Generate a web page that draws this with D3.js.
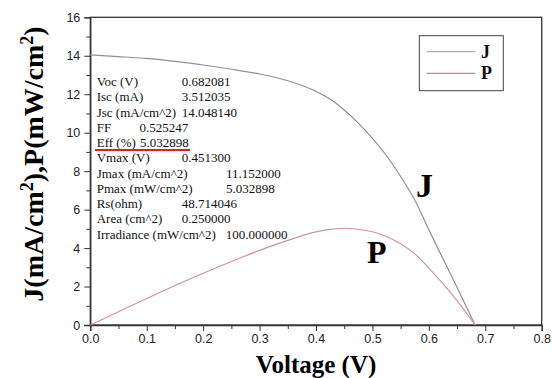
<!DOCTYPE html>
<html>
<head>
<meta charset="utf-8">
<script src="https://cdn.jsdelivr.net/npm/d3@7"></script>
<style>
  body { margin: 0; background: #fff; }
  .tick text { font-family: "Liberation Sans", Arial, sans-serif; font-size: 12.5px; fill: #222; }
  .axis path, .axis line { stroke: #333; }
  .serif { font-family: "Liberation Serif", serif; }
</style>
</head>
<body>
<div class="chart"></div>
<script>
// Data
const voltage = [0, 0.05, 0.1, 0.15, 0.2, 0.25, 0.3, 0.35, 0.4, 0.425, 0.45, 0.475, 0.5, 0.525, 0.55, 0.575, 0.6, 0.625, 0.65, 0.682];
const currentJ = [14.05, 13.96, 13.86, 13.71, 13.52, 13.3, 13.05, 12.7, 12.15, 11.75, 11.18, 10.5, 9.7, 8.8, 7.72, 6.5, 4.95, 3.45, 1.95, 0];
const powerP = [0, 0.69, 1.38, 2.05, 2.69, 3.3, 3.88, 4.4, 4.84, 4.97, 5.03, 4.98, 4.85, 4.6, 4.22, 3.7, 2.96, 2.15, 1.27, 0];

const xTicks = [0, 0.1, 0.2, 0.3, 0.4, 0.5, 0.6, 0.7, 0.8];
const yTicks = [0, 2, 4, 6, 8, 10, 12, 14, 16];

const paramNames = ["Voc (V)", "Isc (mA)", "Jsc (mA/cm^2)", "FF", "Eff (%)", "Vmax (V)",
  "Jmax (mA/cm^2)", "Pmax (mW/cm^2)", "Rs(ohm)", "Area (cm^2)", "Irradiance (mW/cm^2)"];
const paramValues = ["0.682081", "3.512035", "14.048140", "0.525247", "5.032898", "0.451300",
  "11.152000", "5.032898", "48.714046", "0.250000", "100.000000"];
const paramValueX = [181.7, 181.7, 181.7, 139.5, 140, 181.7, 226, 226, 181.7, 181.7, 225.7];

const svgWidth = 552;
const svgHeight = 378;
const margin = { top: 17.3, right: 10.3, bottom: 53, left: 90.3 };
const width = svgWidth - margin.left - margin.right;
const height = svgHeight - margin.top - margin.bottom;

const svg = d3.select(".chart")
  .append("svg")
  .attr("width", svgWidth)
  .attr("height", svgHeight);

const chartGroup = svg.append("g")
  .attr("transform", `translate(${margin.left}, ${margin.top})`);

const x = d3.scaleLinear().domain([0, 0.8]).range([0, width]);
const y = d3.scaleLinear().domain([0, 16]).range([height, 0]);

// frame
chartGroup.append("rect")
  .attr("width", width)
  .attr("height", height)
  .attr("fill", "none")
  .attr("stroke", "#333")
  .attr("stroke-width", 1.3);

// minor ticks
chartGroup.append("g")
  .attr("class", "axis")
  .attr("transform", `translate(0, ${height})`)
  .call(d3.axisBottom(x).tickValues(d3.range(0.05, 0.8, 0.1)).tickSize(4).tickFormat(""))
  .call(g => g.select(".domain").remove());
chartGroup.append("g")
  .attr("class", "axis")
  .call(d3.axisLeft(y).tickValues(d3.range(1, 16, 2)).tickSize(4).tickFormat(""))
  .call(g => g.select(".domain").remove());

// major axes
chartGroup.append("g")
  .attr("class", "axis")
  .attr("transform", `translate(0, ${height})`)
  .call(d3.axisBottom(x).tickValues(xTicks).tickSize(6).tickPadding(3).tickFormat(d3.format(".1f")))
  .call(g => g.select(".domain").attr("stroke-width", 1.3));
chartGroup.append("g")
  .attr("class", "axis")
  .call(d3.axisLeft(y).tickValues(yTicks).tickSize(6).tickPadding(4))
  .call(g => g.select(".domain").attr("stroke-width", 1.3));

// curves
const line = d3.line().x((d, i) => x(voltage[i])).y(d => y(d)).curve(d3.curveMonotoneX);
chartGroup.append("path")
  .datum(currentJ)
  .attr("d", line)
  .attr("fill", "none")
  .attr("stroke", "#958c99")
  .attr("stroke-width", 1.2);
chartGroup.append("path")
  .datum(powerP)
  .attr("d", line)
  .attr("fill", "none")
  .attr("stroke", "#cc95a0")
  .attr("stroke-width", 1.2);

// parameter table
paramNames.forEach((name, i) => {
  const yy = 86 + i * 15.25;
  svg.append("text").attr("class", "serif")
    .attr("x", 96.7).attr("y", yy)
    .style("font-size", "13px").attr("fill", "#111")
    .text(name);
  svg.append("text").attr("class", "serif")
    .attr("x", paramValueX[i]).attr("y", yy)
    .style("font-size", "13px").attr("fill", "#111")
    .text(paramValues[i]);
});
svg.append("line")
  .attr("x1", 95).attr("x2", 190)
  .attr("y1", 150).attr("y2", 150)
  .attr("stroke", "#e0201e")
  .attr("stroke-width", 2);

// legend
const legend = svg.append("g");
legend.append("rect")
  .attr("x", 419.3).attr("y", 35.7)
  .attr("width", 84).attr("height", 55)
  .attr("fill", "#fff")
  .attr("stroke", "#444")
  .attr("stroke-width", 1);
[["J", "#b0b0b0", 51.7], ["P", "#c08a92", 73.3]].forEach(([lab, col, ly]) => {
  legend.append("line")
    .attr("x1", 426.7).attr("x2", 475.3)
    .attr("y1", ly).attr("y2", ly)
    .attr("stroke", col).attr("stroke-width", 1.3);
  legend.append("text").attr("class", "serif")
    .attr("x", 481).attr("y", ly + 6)
    .style("font-size", "18px")
    .style("font-weight", "bold")
    .attr("fill", "#111")
    .text(lab);
});

// curve labels
svg.append("text").attr("class", "serif")
  .attr("x", 416).attr("y", 197)
  .style("font-size", "34px")
  .style("font-weight", "bold")
  .text("J");
svg.append("text").attr("class", "serif")
  .attr("x", 367).attr("y", 263)
  .style("font-size", "32px")
  .style("font-weight", "bold")
  .text("P");

// axis titles
svg.append("text").attr("class", "serif")
  .attr("x", 316).attr("y", 372.5)
  .attr("text-anchor", "middle")
  .style("font-size", "25px")
  .style("font-weight", "bold")
  .text("Voltage (V)");

const yTitle = svg.append("text").attr("class", "serif")
  .attr("transform", "translate(43, 164) rotate(-90)")
  .attr("text-anchor", "middle")
  .style("font-size", "28px")
  .style("font-weight", "bold");
yTitle.append("tspan").text("J(mA/cm");
yTitle.append("tspan").attr("baseline-shift", "super").style("font-size", "18px").text("2");
yTitle.append("tspan").text("),P(mW/cm");
yTitle.append("tspan").attr("baseline-shift", "super").style("font-size", "18px").text("2");
yTitle.append("tspan").text(")");
</script>
</body>
</html>
